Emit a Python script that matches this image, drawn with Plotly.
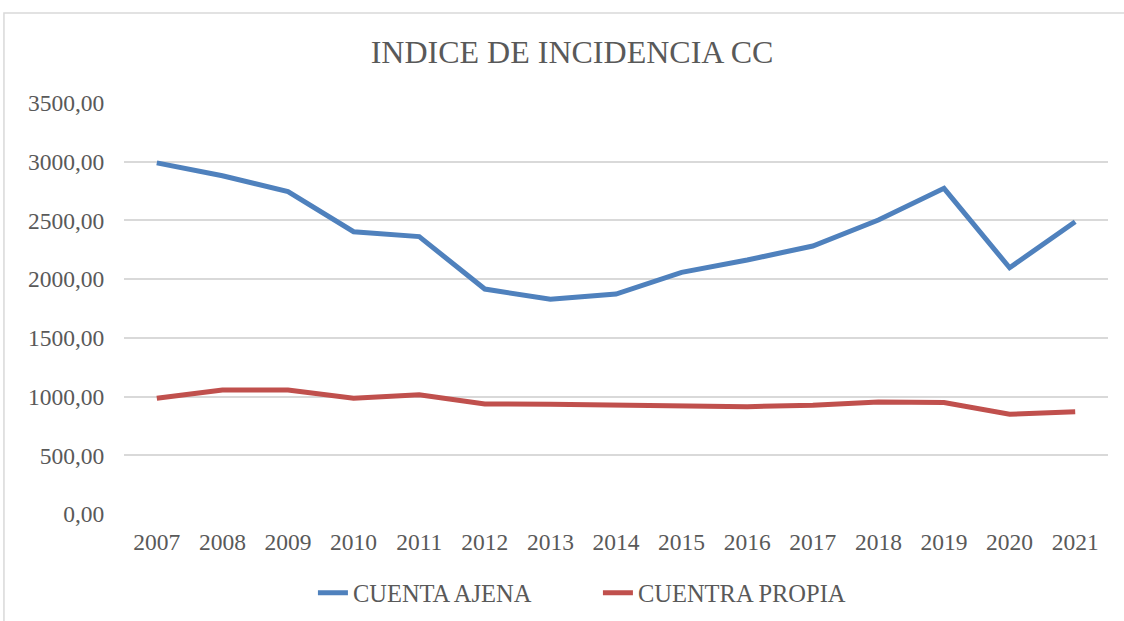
import plotly.graph_objects as go

years = ['2007', '2008', '2009', '2010', '2011', '2012', '2013', '2014',
         '2015', '2016', '2017', '2018', '2019', '2020', '2021']
cuenta_ajena = [2990, 2880, 2745, 2404, 2362, 1916, 1828, 1873,
                2058, 2163, 2282, 2503, 2773, 2097, 2489]
cuenta_propia = [985, 1056, 1056, 985, 1015, 937, 934, 926,
                 920, 914, 926, 954, 949, 849, 871]
y_ticks = [0, 500, 1000, 1500, 2000, 2500, 3000, 3500]
y_tick_labels = ['0,00', '500,00', '1000,00', '1500,00', '2000,00',
                 '2500,00', '3000,00', '3500,00']

font_family = 'Liberation Serif'
grey_text = '#595959'

fig = go.Figure()
fig.add_trace(go.Scatter(x=years, y=cuenta_ajena, name='CUENTA AJENA',
                         mode='lines', line=dict(color='#4f81bd', width=5)))
fig.add_trace(go.Scatter(x=years, y=cuenta_propia, name='CUENTRA PROPIA',
                         mode='lines', line=dict(color='#c0504d', width=5)))

# chart area border
fig.add_shape(type='rect', xref='paper', yref='paper',
              x0=-0.122, x1=1.1, y0=-0.4, y1=1.219,
              line=dict(color='#d9d9d9', width=1.5), layer='below')

fig.update_layout(
    width=1124, height=621,
    margin=dict(l=124, r=16, t=103, b=107, autoexpand=False),
    paper_bgcolor='white', plot_bgcolor='white',
    title=dict(text='INDICE DE INCIDENCIA CC', x=572 / 1124, xanchor='center',
               y=1 - 52 / 621, yanchor='middle',
               font=dict(family=font_family, size=32, color=grey_text)),
    font=dict(family=font_family, size=23.5, color=grey_text),
    showlegend=True,
    legend=dict(orientation='h', x=0.192, xanchor='left', y=-0.192, yanchor='middle',
                font=dict(family=font_family, size=24.5, color=grey_text),
                entrywidth=240, entrywidthmode='pixels', tracegroupgap=0),
)
fig.update_xaxes(range=[-0.5, 14.5], showgrid=False, showline=False, zeroline=False,
                 ticks='outside', ticklen=7, tickcolor='rgba(0,0,0,0)',
                 automargin=False,
                 tickfont=dict(family=font_family, size=23.5, color=grey_text))
fig.update_yaxes(range=[0, 3500], tickvals=y_ticks, ticktext=y_tick_labels,
                 showgrid=True, gridcolor='#d9d9d9', gridwidth=1.5,
                 zeroline=False, showline=False,
                 ticks='outside', ticklen=14, tickcolor='rgba(0,0,0,0)',
                 automargin=False,
                 tickfont=dict(family=font_family, size=23.5, color=grey_text))

fig.write_html('out.html', config={'displayModeBar': False},
               post_script="document.body.style.margin = '0';")
